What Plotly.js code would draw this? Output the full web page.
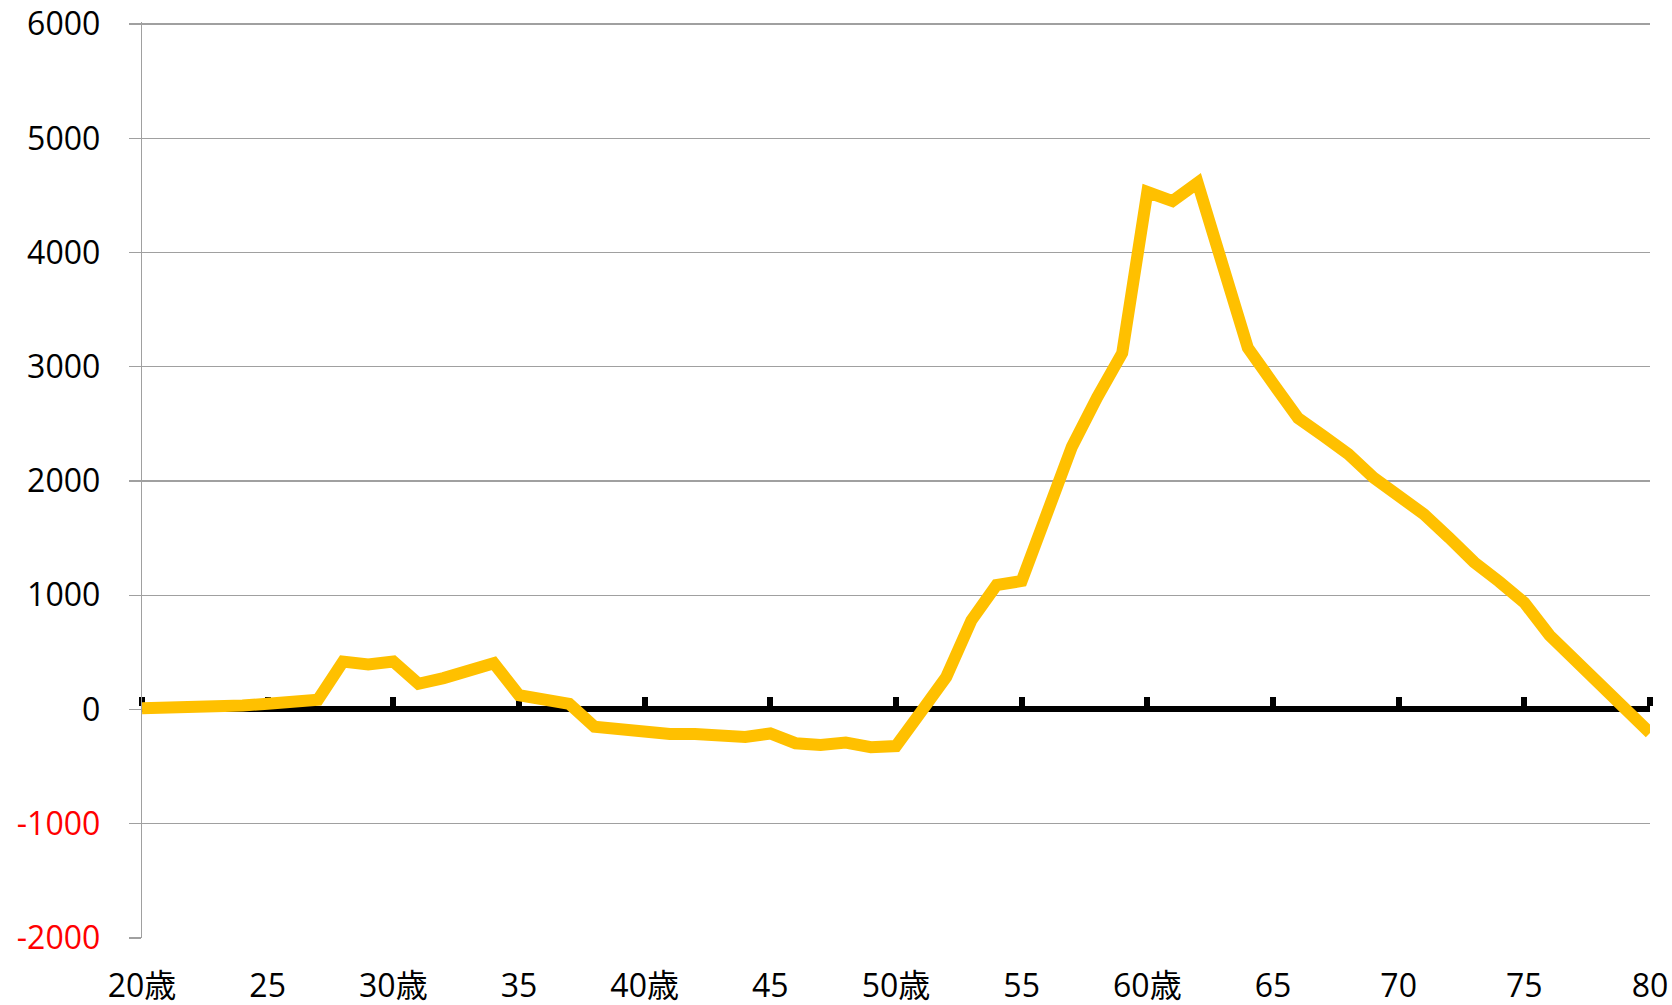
<!DOCTYPE html>
<html>
<head>
<meta charset="utf-8">
<script src="https://cdn.plot.ly/plotly-3.0.1.min.js"></script>
<style>
html,body{margin:0;padding:0;background:#fff;}
#chart{width:1672px;height:1005px;}
</style>
</head>
<body>
<div id="chart"></div>
<script>
const ages = [20,21,22,23,24,25,26,27,28,29,30,31,32,33,34,35,36,37,38,39,40,41,42,43,44,45,46,47,48,49,50,51,52,53,54,55,56,57,58,59,60,61,62,63,64,65,66,67,68,69,70,71,72,73,74,75,76,77,78,79,80];
const values = [10,10,20,30,35,50,55,85,420,395,420,225,275,335,405,125,85,50,-150,-175,-205,-215,-215,-215,-240,-210,-295,-310,-290,-330,-320,-20,285,780,1090,1125,1710,2300,2730,3120,4530,4450,4610,3910,3165,2855,2550,2395,2235,2030,1880,1710,1505,1290,1120,935,650,440,235,15,-205];
const xTickVals = [20,25,30,35,40,45,50,55,60,65,70,75,80];
const xTickText = ['20歳','25','30歳','35','40歳','45','50歳','55','60歳','65','70','75','80'];
const yTickVals = [-2000,-1000,0,1000,2000,3000,4000,5000,6000];
const yTickText = ['<span style="color:#FF0000">-2000</span>','<span style="color:#FF0000">-1000</span>','0','1000','2000','3000','4000','5000','6000'];

const font = "'Open Sans', 'Noto Sans CJK JP', sans-serif";

const traces = [
  {x: ages, y: values, xaxis:'x2', yaxis:'y', mode:'lines', opacity:0, hoverinfo:'skip', showlegend:false},
  {x: ages, y: values, xaxis:'x', yaxis:'y', mode:'lines', line:{color:'#FFC000', width:12}, hoverinfo:'x+y', showlegend:false}
];

const layout = {
  width:1672, height:1005,
  margin:{l:142, r:22, t:22, b:67},
  paper_bgcolor:'#fff', plot_bgcolor:'#fff',
  font:{family:font, size:32, color:'#000'},
  showlegend:false,
  xaxis:{
    range:[20,80], tickvals:xTickVals, ticktext:xTickText,
    showgrid:false, zeroline:false, showline:false, ticks:'',
    ticklabelstandoff:26,
    tickfont:{family:font, size:32, color:'#000'}
  },
  xaxis2:{
    overlaying:'x', side:'top', anchor:'free', position:0.25,
    range:[20,80], tickvals:xTickVals, showticklabels:false,
    showgrid:false, zeroline:false,
    showline:true, linecolor:'#000', linewidth:6,
    ticks:'outside', ticklen:9, tickwidth:6, tickcolor:'#000',
    layer:'below traces'
  },
  yaxis:{
    range:[-2000,6018], tickvals:yTickVals, ticktext:yTickText,
    showgrid:true, gridcolor:'#A0A0A0', gridwidth:1.3,
    zeroline:false,
    showline:true, linecolor:'#A0A0A0', linewidth:1.3,
    ticks:'outside', ticklen:12, tickcolor:'#A0A0A0', tickwidth:1.3,
    ticklabelstandoff:22,
    tickfont:{family:font, size:32, color:'#000'}
  }
};

Plotly.newPlot('chart', traces, layout, {displayModeBar:false, staticPlot:true});
</script>
</body>
</html>
